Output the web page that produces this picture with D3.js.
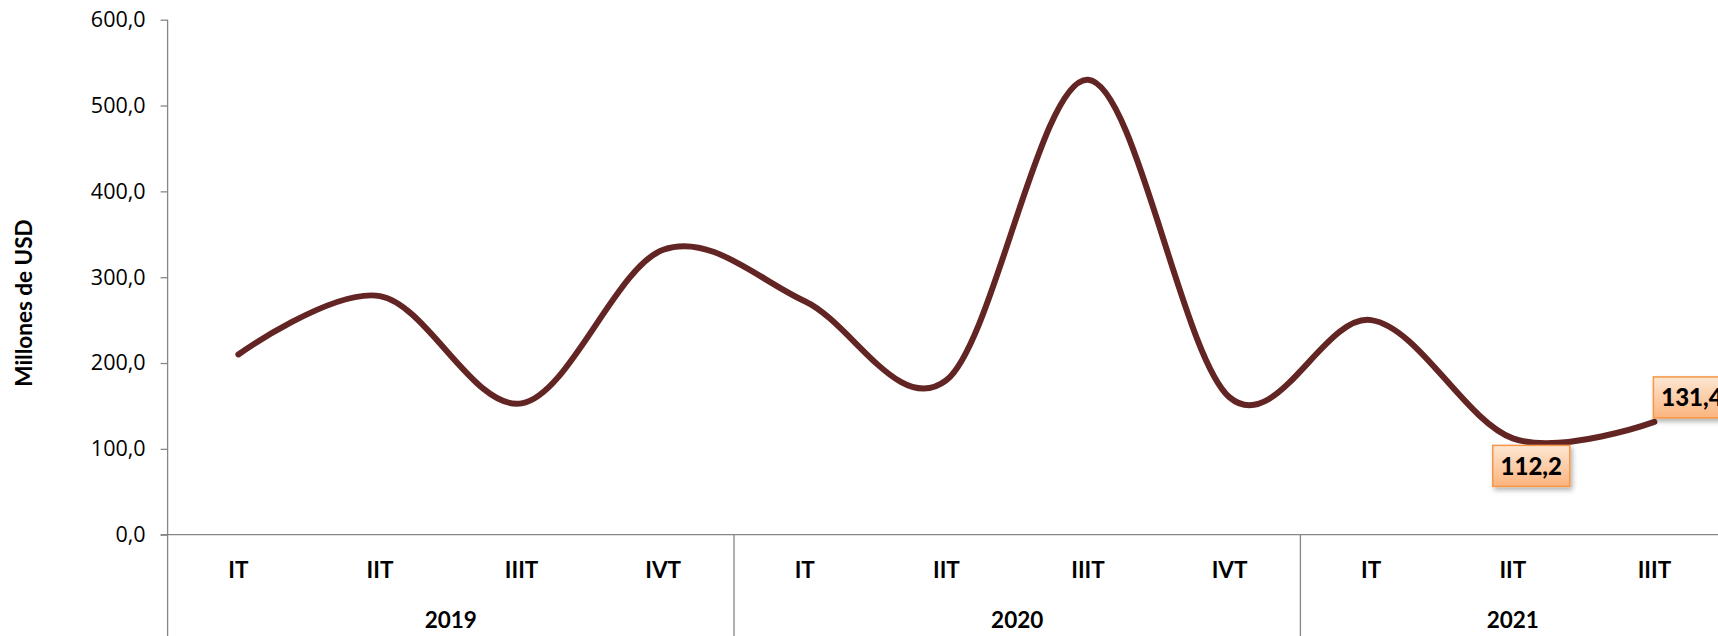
<!DOCTYPE html>
<html>
<head>
<meta charset="utf-8">
<script src="https://cdn.jsdelivr.net/npm/d3@7"></script>
<style>
  html, body { margin: 0; padding: 0; background: #fff; }
  svg { display: block; }
</style>
</head>
<body>
<div id="chart"></div>
<script>
// data
const years = ['2019', '2020', '2021'];
const quarters = ['IT', 'IIT', 'IIIT', 'IVT', 'IT', 'IIT', 'IIIT', 'IVT', 'IT', 'IIT', 'IIIT'];
const quarterYear = ['2019', '2019', '2019', '2019', '2020', '2020', '2020', '2020', '2021', '2021', '2021'];
const values = [210, 278, 153, 332, 272, 180, 530, 160, 250, 112.2, 131.4];
const yTicks = [0, 100, 200, 300, 400, 500, 600];
const labelled = [9, 10];   // points that carry a data label

const width = 1718, height = 636;
const plotLeft = 167.6, plotTop = 19.7, plotBottom = 534.7;
const step = 141.6;

const svg = d3.select('#chart').append('svg')
  .attr('width', width)
  .attr('height', height);

const defs = svg.append('defs');
const grad = defs.append('linearGradient')
  .attr('id', 'lblFill')
  .attr('x1', 0).attr('y1', 0).attr('x2', 0).attr('y2', 1);
grad.append('stop').attr('offset', '0%').attr('stop-color', '#fde7d3');
grad.append('stop').attr('offset', '100%').attr('stop-color', '#fbb47e');
const shadow = defs.append('filter').attr('id', 'shadow')
  .attr('x', '-20%').attr('y', '-20%').attr('width', '150%').attr('height', '160%');
shadow.append('feDropShadow')
  .attr('dx', 2).attr('dy', 3).attr('stdDeviation', 2.5)
  .attr('flood-color', '#000').attr('flood-opacity', 0.3);

const x = d3.scaleBand()
  .domain(d3.range(quarters.length))
  .range([plotLeft, plotLeft + step * quarters.length])
  .padding(0);

const y = d3.scaleLinear()
  .domain([0, 600])
  .range([plotBottom, plotTop]);

const locale = d3.formatLocale({ decimal: ',', thousands: '.', grouping: [3], currency: ['', ''] });
const fmt = locale.format('.1f');

// y axis
const yAxis = svg.append('g')
  .attr('transform', `translate(${plotLeft},0)`)
  .call(d3.axisLeft(y).tickValues(yTicks).tickFormat(fmt).tickSize(7).tickPadding(15));
yAxis.select('.domain').remove();
yAxis.selectAll('.tick line').attr('stroke', '#868686').attr('stroke-width', 1.3);
yAxis.selectAll('.tick text')
  .attr('font-family', '"Open Sans", sans-serif')
  .attr('font-size', '21.5px')
  .attr('fill', '#000');

svg.append('line')
  .attr('x1', plotLeft).attr('x2', plotLeft)
  .attr('y1', plotTop).attr('y2', height)
  .attr('stroke', '#868686').attr('stroke-width', 1.3);

// category axis line
svg.append('line')
  .attr('x1', plotLeft - 7).attr('x2', width)
  .attr('y1', plotBottom).attr('y2', plotBottom)
  .attr('stroke', '#868686').attr('stroke-width', 1.3);

// year separators
const groups = years.map(yr => {
  const idx = quarters.map((q, i) => i).filter(i => quarterYear[i] === yr);
  return { year: yr, start: x(idx[0]), end: x(idx[idx.length - 1]) + x.bandwidth() };
});

svg.selectAll('.sep')
  .data(groups.slice(1))
  .enter()
  .append('line')
  .attr('x1', d => d.start).attr('x2', d => d.start)
  .attr('y1', plotBottom).attr('y2', height)
  .attr('stroke', '#868686').attr('stroke-width', 1.3);

svg.selectAll('.qlabel')
  .data(quarters)
  .enter()
  .append('text')
  .attr('x', (d, i) => x(i) + x.bandwidth() / 2)
  .attr('y', 570)
  .attr('dy', '0.35em')
  .attr('text-anchor', 'middle')
  .attr('font-family', 'Lato, sans-serif')
  .attr('font-weight', 'bold')
  .attr('font-size', '22.5px')
  .text(d => d);

svg.selectAll('.ylabel')
  .data(groups)
  .enter()
  .append('text')
  .attr('x', d => (d.start + d.end) / 2)
  .attr('y', 620)
  .attr('dy', '0.35em')
  .attr('text-anchor', 'middle')
  .attr('font-family', 'Lato, sans-serif')
  .attr('font-weight', 'bold')
  .attr('font-size', '22.5px')
  .text(d => d.year);

// axis title
svg.append('text')
  .attr('transform', 'translate(24,303) rotate(-90)')
  .attr('dy', '0.35em')
  .attr('text-anchor', 'middle')
  .attr('font-family', 'Lato, sans-serif')
  .attr('font-weight', 'bold')
  .attr('font-size', '22.5px')
  .text('Millones de USD');

// smoothed line
const line = d3.line()
  .x((d, i) => x(i) + x.bandwidth() / 2)
  .y(d => y(d))
  .curve(d3.curveCatmullRom.alpha(0));

svg.append('path')
  .datum(values)
  .attr('d', line)
  .attr('fill', 'none')
  .attr('stroke', '#632523')
  .attr('stroke-width', 6)
  .attr('stroke-linecap', 'round');

// data labels
const boxW = 77, boxH = 41;
const lbl = svg.selectAll('.dlabel')
  .data(labelled)
  .enter()
  .append('g')
  .attr('transform', i => {
    const px = x(i) + x.bandwidth() / 2, py = y(values[i]);
    // first label sits below the point, the last one above-right
    return i === 9
      ? `translate(${px - 20},${py + 7})`
      : `translate(${px - 1},${py - 4 - boxH})`;
  });

lbl.append('rect')
  .attr('width', boxW).attr('height', boxH)
  .attr('fill', 'url(#lblFill)')
  .attr('stroke', '#f79646')
  .attr('stroke-width', 1.5)
  .attr('filter', 'url(#shadow)');

lbl.append('text')
  .attr('x', boxW / 2).attr('y', boxH / 2)
  .attr('dy', '0.36em')
  .attr('text-anchor', 'middle')
  .attr('font-family', 'Lato, sans-serif')
  .attr('font-weight', 900)
  .attr('font-size', '24px')
  .text(i => fmt(values[i]));
</script>
</body>
</html>
